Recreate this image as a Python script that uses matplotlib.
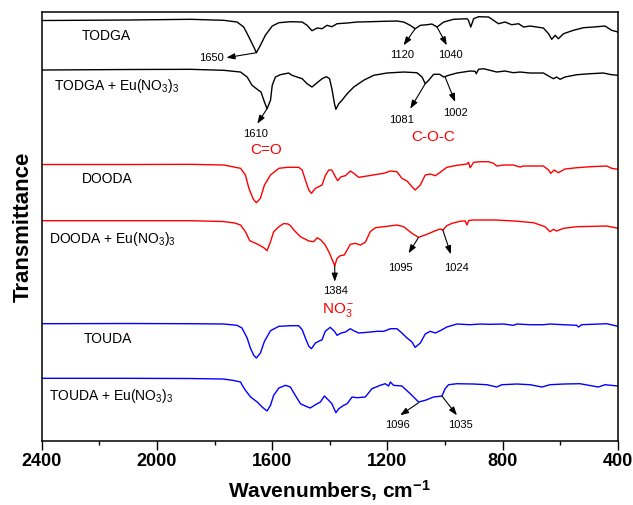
import matplotlib
matplotlib.use("Agg")
import matplotlib.pyplot as plt

plt.rcParams["font.family"] = ["Liberation Sans", "DejaVu Sans"]
plt.rcParams["mathtext.fontset"] = "custom"
plt.rcParams["mathtext.rm"] = "Liberation Sans"
plt.rcParams["mathtext.it"] = "Liberation Sans:italic"
plt.rcParams["mathtext.bf"] = "Liberation Sans:bold"

# stacked IR spectra (arbitrary transmittance units)
todga_wn = [2400, 2100, 1884, 1768, 1722, 1699, 1681, 1664, 1655, 1641, 1624, 1600, 1577, 1537, 1496,
            1479, 1462, 1444, 1427, 1410, 1393, 1375, 1340, 1306, 1260, 1213, 1167, 1144, 1121, 1104,
            1086, 1063, 1046, 1028, 1005, 971, 924, 919, 911, 901, 884, 849, 832, 815, 792,
            769, 745, 728, 705, 659, 641, 630, 618, 607, 589, 555, 520, 485, 445, 422, 400]
todga_t = [420.5, 421, 421.7, 420.7, 419, 414, 404, 394, 388.3, 395.7, 405.7, 415, 418.3, 419.3, 419,
           415.7, 410.3, 413, 412.3, 415.7, 414.3, 417.3, 418, 419, 419.3, 419.7, 420, 419, 415.7, 412.3,
           415.7, 416.3, 417, 414, 419, 421.7, 422.3, 420.7, 414, 422.3, 424.3, 424, 420.7, 417.3, 419,
           416.3, 417.3, 414, 415, 413, 407.3, 401.7, 405.7, 402.3, 407.3, 410.7, 413.3, 414, 415, 410.7, 409]

todga_eu_wn = [2400, 2100, 1884, 1768, 1710, 1687, 1670, 1652, 1639, 1627, 1618, 1606, 1600, 1589, 1572,
               1543, 1531, 1514, 1496, 1479, 1462, 1444, 1427, 1412, 1401, 1393, 1384, 1379, 1369, 1358,
               1340, 1317, 1283, 1248, 1202, 1144, 1098, 1080, 1069, 1057, 1040, 1019, 1005, 988, 959,
               913, 896, 892, 884, 867, 844, 821, 792, 763, 740, 705, 659, 641, 624, 613,
               601, 584, 543, 497, 451, 422, 400]
todga_eu_t = [371, 371.5, 371.7, 370.7, 369, 364, 355.7, 351.7, 349, 339, 332.3, 340.7, 355.7, 364, 366.3,
              368, 365.7, 364, 362.3, 357.3, 354, 358.3, 362.3, 364.3, 362.3, 352.3, 337.3, 331.7, 337.3, 340.7,
              347.3, 354, 360.7, 365.7, 368, 369, 368.3, 364, 357.3, 360.7, 366.7, 366.7, 364, 365.7, 368,
              370, 369.7, 367.3, 371.7, 372.3, 370.7, 369, 370, 368.3, 369, 368, 368, 365, 362.3, 364,
              361.7, 364, 366.3, 367.3, 368, 366.3, 365.7]

dooda_wn = [2400, 2100, 1884, 1768, 1710, 1693, 1681, 1666, 1655, 1641, 1627, 1606, 1577, 1548, 1508,
            1496, 1485, 1473, 1464, 1450, 1439, 1427, 1416, 1404, 1393, 1381, 1373, 1361, 1346, 1329,
            1317, 1300, 1271, 1236, 1213, 1190, 1167, 1150, 1132, 1115, 1104, 1086, 1069, 1052, 1034,
            1017, 994, 959, 924, 919, 913, 901, 878, 849, 832, 821, 797, 763, 740, 728,
            659, 641, 633, 622, 607, 584, 543, 497, 439, 422, 400]
dooda_t = [276.5, 276.5, 276.7, 276, 272.7, 266, 252.7, 242, 238.3, 242.7, 256, 266, 272.7, 273.7, 273.7,
           271, 261, 251, 247.7, 252.7, 254.3, 256, 265.3, 271, 271, 264.3, 260.3, 264.3, 265.3, 270,
           267.7, 263.7, 265, 266.7, 267.7, 270, 269.3, 262.7, 260, 254.3, 251, 256, 266, 267, 265.3,
           268.7, 273.7, 275.7, 277, 278.7, 273.3, 278.7, 279.3, 279.3, 277.7, 275, 276, 276, 274, 275,
           275, 271, 267.7, 271, 268.3, 272, 273.3, 274.3, 275, 272.7, 271.7]

dooda_eu_wn = [2400, 2100, 1884, 1770, 1730, 1710, 1693, 1678, 1652, 1629, 1618, 1606, 1595, 1577, 1560,
               1545, 1537, 1525, 1502, 1473, 1456, 1444, 1431, 1416, 1401, 1389, 1383, 1375, 1364, 1350,
               1340, 1329, 1312, 1294, 1277, 1260, 1242, 1213, 1167, 1144, 1115, 1092, 1063, 1034, 1017,
               1008, 994, 976, 944, 930, 924, 918, 904, 825, 759, 693, 653, 636, 624, 613,
               589, 543, 439, 400]
dooda_eu_t = [220.3, 220.3, 220.3, 219.5, 218, 216, 209.3, 200.3, 197, 193.3, 190.3, 199.3, 209.3, 214.3, 217.5,
              217, 215.5, 211, 204.3, 200, 199.3, 203.3, 201, 196, 187.7, 179.3, 175.3, 182.7, 185.3, 186,
              191, 196.7, 197.7, 196, 198.7, 209.3, 213.3, 214.3, 216, 214.3, 207.7, 203.7, 206.7, 210.3, 212,
              211, 215.3, 217.7, 220, 220, 216, 220.5, 221, 221, 220, 218.3, 214.3, 209.3, 211.7, 210,
              212.7, 214.3, 215, 212.7]

touda_wn = [2400, 2100, 1884, 1768, 1722, 1705, 1687, 1676, 1664, 1655, 1641, 1627, 1606, 1577, 1537,
            1508, 1496, 1485, 1473, 1464, 1450, 1439, 1427, 1416, 1399, 1384, 1375, 1361, 1346, 1329,
            1317, 1300, 1271, 1236, 1213, 1190, 1167, 1150, 1132, 1115, 1104, 1086, 1069, 1052, 1034,
            1017, 994, 959, 913, 878, 844, 797, 763, 751, 705, 659, 636, 589, 543, 537,
            526, 439, 400]
touda_t = [117.3, 117.5, 117.3, 117, 115.7, 113, 103, 93, 85.7, 83, 88, 99.7, 110.3, 114.7, 115.3,
           115.3, 111.3, 103, 94.7, 92.3, 98, 99.7, 101.3, 109.7, 113.7, 109.7, 105.7, 108, 109, 112.3,
           110.3, 108, 108.7, 109.7, 109.7, 112.3, 112.3, 108, 103, 99, 93.7, 98, 107, 109.7, 108,
           110.3, 114, 117, 116.3, 117, 116.7, 117, 115.7, 117, 116.3, 116.3, 117, 116.3, 115.7, 114,
           116.3, 117.3, 114.7]

touda_eu_wn = [2400, 2100, 1884, 1770, 1733, 1710, 1704, 1693, 1675, 1652, 1635, 1618, 1606, 1595, 1577,
               1554, 1537, 1520, 1502, 1485, 1468, 1450, 1433, 1419, 1404, 1393, 1379, 1369, 1352, 1340,
               1323, 1306, 1277, 1254, 1225, 1208, 1196, 1190, 1179, 1150, 1121, 1092, 1069, 1040, 1011,
               1000, 988, 959, 901, 855, 821, 803, 751, 705, 664, 636, 589, 532, 468, 445, 400]
touda_eu_t = [62.7, 62.7, 62.5, 62, 60.5, 59, 55.7, 50.7, 44, 39, 34, 30, 35.7, 45.7, 53,
              55.7, 54, 45.7, 37.3, 35, 33, 36.3, 39, 45, 40.7, 37.3, 28.3, 32.3, 35.7, 37.3,
              44, 43.3, 44, 52.3, 55.7, 57.3, 55, 59, 55.7, 55, 47.3, 39, 40.7, 44, 45,
              52.3, 56.3, 57.3, 57, 56.3, 54, 56.3, 57, 56.3, 54, 56.3, 57, 57.3, 54, 56.3, 55]

x_major = [2400, 2000, 1600, 1200, 800, 400]
x_minor = [2200, 1800, 1400, 1000, 600]

# (label, tail on curve, arrow head, label position)
peak_marks = [
    ("1650", (1655, 388.3), (1759, 383.3), (1812, 383.3)),
    ("1120", (1104, 412.3), (1144, 395.7), (1148, 385.7)),
    ("1040", (1028, 414), (994, 395.7), (983, 385.7)),
    ("1610", (1618, 332.3), (1652, 317.3), (1657, 306.7)),
    ("1081", (1069, 357.3), (1121, 332.3), (1152, 320.7)),
    ("1002", (1000, 364), (965, 339), (965, 328.3)),
    ("1384", (1383, 175.3), (1383, 159.3), (1381, 150.3)),
    ("1095", (1092, 203.7), (1127, 187.7), (1156, 173.3)),
    ("1024", (1008, 211), (980, 186.7), (962, 173.3)),
    ("1096", (1092, 38.3), (1156, 25.7), (1167, 15.7)),
    ("1035", (1011, 45), (959, 25.7), (945, 15.7)),
]

fig = plt.figure(figsize=(6.33, 5.05), dpi=100)
ax = fig.add_axes([0.0659, 0.1267, 0.9104, 0.8501])

ax.plot(todga_wn, todga_t, color="black", lw=1.0)
ax.plot(todga_eu_wn, todga_eu_t, color="black", lw=1.0)
ax.plot(dooda_wn, dooda_t, color="#ff0000", lw=1.0)
ax.plot(dooda_eu_wn, dooda_eu_t, color="#ff0000", lw=1.0)
ax.plot(touda_wn, touda_t, color="#0000ff", lw=1.0)
ax.plot(touda_eu_wn, touda_eu_t, color="#0000ff", lw=1.0)

ax.set_xlim(2400, 400)
ax.set_ylim(0, 429.3)

for label, tail, head, pos in peak_marks:
    ax.annotate("", xy=head, xytext=tail,
                arrowprops=dict(arrowstyle="-|>,head_length=0.5,head_width=0.18",
                                color="black", lw=0.8, shrinkA=0, shrinkB=0))
    ax.text(pos[0], pos[1], label, fontsize=8, ha="center", va="center")

ax.text(2175, 405.3, "TODGA", fontsize=10, ha="center", va="center")
ax.text(2359, 351, r"TODGA + Eu(NO$_3$)$_3$", fontsize=10, ha="left", va="baseline")
ax.text(2171, 261.7, "DOODA", fontsize=10, ha="center", va="center")
ax.text(2373, 198, r"DOODA + Eu(NO$_3$)$_3$", fontsize=10, ha="left", va="baseline")
ax.text(2169, 101.7, "TOUDA", fontsize=10, ha="center", va="center")
ax.text(2373, 41, r"TOUDA + Eu(NO$_3$)$_3$", fontsize=10, ha="left", va="baseline")

ax.text(1622, 291, "C=O", fontsize=11, color="#ff0000", ha="center", va="center")
ax.text(1042, 303.7, "C-O-C", fontsize=11, color="#ff0000", ha="center", va="center")
ax.text(1372, 131, r"NO$_3^-$", fontsize=11, color="#ff0000", ha="center", va="center")

ax.set_xticks(x_major)
ax.set_xticks(x_minor, minor=True)
ax.set_xticklabels([str(v) for v in x_major], fontsize=13, fontweight="bold")
ax.set_yticks([])
ax.tick_params(axis="x", which="major", direction="out", length=6.5, width=1.0, pad=2)
ax.tick_params(axis="x", which="minor", direction="out", length=3, width=1.0)
for sp in ax.spines.values():
    sp.set_linewidth(1.1)

ax.set_xlabel(r"Wavenumbers, cm$^{\mathbf{-1}}$", fontsize=15, fontweight="bold", labelpad=6)
ax.set_ylabel("Transmittance", fontsize=16, fontweight="bold", labelpad=6)

fig.savefig("out.png", dpi=100)
plt.close(fig)
